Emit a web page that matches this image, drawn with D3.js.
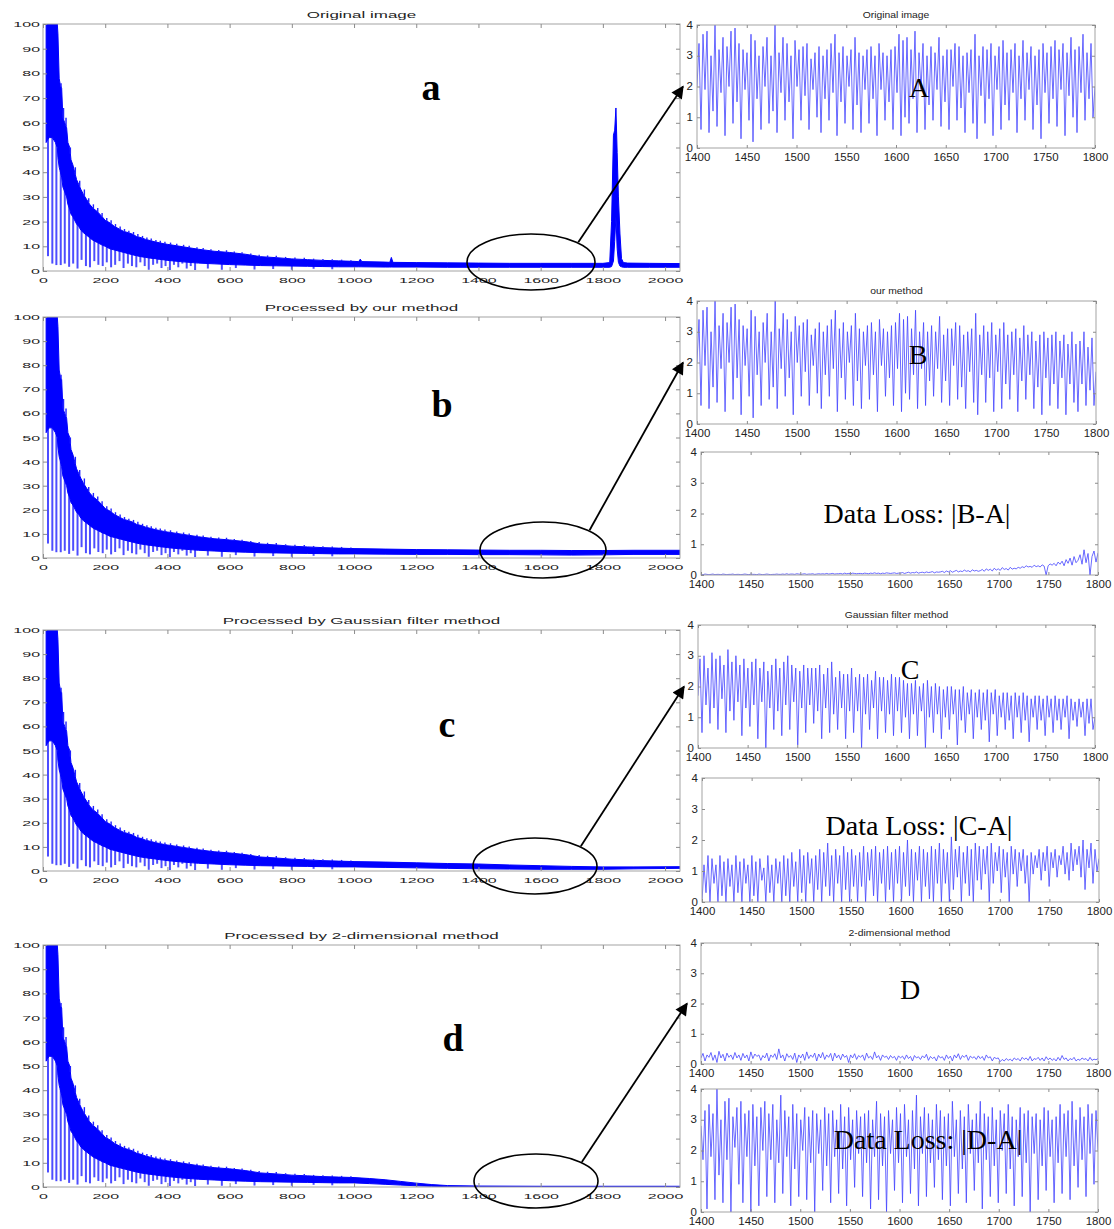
<!DOCTYPE html>
<html>
<head>
<meta charset="utf-8">
<script src="https://cdn.jsdelivr.net/npm/d3@7"></script>
<style>
  body { margin: 0; background: #fff; }
  svg { display: block; }
</style>
</head>
<body>
<div id="chart"></div>
<script>
// ---------- data ----------
// main panels: shared decaying head (0-950), as upper / lower edge of the dense band
const headX = [10, 14, 20, 30, 40, 46, 48, 52, 56, 60, 64, 70, 76, 80, 86, 90, 96, 100, 108, 115,
  122, 130, 140, 150, 160, 175, 190, 200, 215, 230, 245, 260, 275, 290, 300, 315, 330, 345, 360, 375,
  390, 400, 450, 500, 550, 600, 650, 700, 750, 800, 850, 900, 950];
const headUpper = [100, 100, 100, 100, 100, 100, 96, 78, 75, 74, 62, 60, 58, 52, 50, 45, 43, 41, 37, 35,
  33, 31, 29, 27, 25.5, 24, 22, 20.5, 19.5, 18, 17, 16, 15.5, 14.8, 14, 13.5, 12.8, 12.3, 11.8, 11.4,
  11, 10.8, 9.8, 8.8, 8, 7.5, 6.8, 5.8, 5.4, 4.9, 4.6, 4.3, 4.1];
const headLower = [52, 53, 54, 54, 52, 50, 46, 42, 40, 38, 34, 32, 30, 27, 25, 23, 22, 21, 19, 18,
  16.5, 15.5, 14.5, 13.5, 12.5, 11.5, 10.5, 10, 9, 8.5, 8, 7.5, 7, 6.5, 6.2, 5.8, 5.5, 5.2, 5, 4.7,
  4.5, 4.3, 3.7, 3.2, 2.9, 2.6, 2.4, 2.2, 2.1, 2.0, 1.9, 1.8, 1.7];
// downward spikes in the head
const spikeX = [16, 30, 43, 57, 70, 84, 97, 111, 124, 138, 151, 165, 178, 192, 205, 219, 232, 246, 259, 273,
  286, 300, 313, 327, 340, 354, 367, 381, 394, 408, 421, 435, 448, 462, 475, 489, 530, 575, 620, 680,
  740, 800, 870, 930];
const spikeMin = [6, 3, 2.4, 2.4, 3, 1.7, 3, 1, 4.5, 2, 1.5, 4, 2.5, 2, 3.5, 1.5, 2.5, 4, 1.2, 3,
  2, 1.5, 3.5, 2, 0.5, 2.5, 3, 1.2, 2, 0.4, 2.5, 1.5, 3, 1, 2, 0.4, 1, 0.5, 1.2, 0.6,
  0.8, 0.5, 0.9, 0.7];
// small upward bumps along the top edge
const bumpX = [58, 66, 74, 88, 104, 118, 133, 147, 162, 176, 190, 205, 219, 233, 248, 262, 276, 291, 305, 320,
  334, 348, 363, 377, 392, 410, 430, 452, 470, 495, 515, 540, 565, 590, 615, 640, 668, 695, 722, 750,
  780, 810, 840, 870, 900, 930, 960, 990];
const bumpMax = [76, 66, 62, 50, 42, 36.5, 33, 29.5, 27, 25.5, 23.5, 21.5, 20.5, 19, 18, 17, 16.3, 15.8, 15, 14.2,
  13.6, 13.2, 12.6, 12.2, 11.8, 11.5, 11, 10.6, 10.2, 9.6, 9.3, 8.8, 8.5, 8.4, 7.9, 7.6, 7.1, 6.6, 6.3, 6.2,
  5.7, 5.5, 5.4, 5.0, 4.9, 4.8, 4.6, 4.4];

// tails (1000-2048) of each main panel
const aTailX = [1000, 1015, 1020, 1025, 1100, 1115, 1120, 1125, 1200, 1300, 1400, 1500, 1600, 1700, 1800, 1822, 1828, 1834, 1838, 1842, 1846, 1850, 1855, 1860, 1866, 1880, 1950, 2048];
const aTailUpper = [3.9, 3.8, 4.8, 3.8, 3.6, 3.5, 5.5, 3.5, 3.4, 3.3, 3.2, 3.1, 3.1, 3.1, 3.1, 3.4, 20, 55, 57, 66, 48, 30, 15, 5, 3.4, 3.2, 3.1, 3.0];
const aTailLower = [1.7, 1.7, 1.7, 1.7, 1.6, 1.6, 1.6, 1.6, 1.6, 1.5, 1.5, 1.5, 1.5, 1.5, 1.5, 1.5, 1.8, 4, 12, 22, 9, 3.5, 2, 1.7, 1.5, 1.5, 1.5, 1.5];
const bTailX = [1000, 1100, 1200, 1300, 1400, 1500, 1600, 1700, 1800, 1900, 2048];
const bTailUpper = [3.9, 3.7, 3.5, 3.4, 3.3, 3.2, 3.2, 3.1, 3.1, 3.2, 3.2];
const bTailLower = [1.7, 1.6, 1.5, 1.5, 1.4, 1.4, 1.3, 1.2, 1.3, 1.5, 1.5];
const cTailX = [1000, 1100, 1200, 1300, 1400, 1500, 1600, 1700, 1800, 1900, 2048];
const cTailUpper = [3.9, 3.7, 3.4, 3.1, 2.9, 2.5, 2.2, 1.9, 1.7, 1.7, 1.8];
const cTailLower = [1.7, 1.5, 1.3, 1.1, 0.9, 0.8, 0.7, 0.7, 0.7, 0.9, 1.1];
const dTailX = [1000, 1050, 1100, 1150, 1200, 1250, 1300, 1400, 1600, 1800, 2048];
const dTailUpper = [3.9, 3.5, 3.0, 2.3, 1.6, 1.0, 0.6, 0.4, 0.3, 0.3, 0.3];
const dTailLower = [1.7, 1.4, 1.1, 0.8, 0.5, 0.3, 0.15, 0.05, 0.05, 0.05, 0.05];

// zoomed windows 1400-1800 (one value every ~2 samples)
const sigA = [
  2.0,3.4,0.6,3.7,1.9,3.8,0.5,3.0,1.2,4.0,0.7,3.2,1.8,3.6,0.4,3.3,2.0,3.8,0.8,3.9,
  1.5,3.4,0.3,3.2,1.9,3.1,0.9,3.7,0.2,3.5,1.6,3.0,0.6,3.3,2.0,3.6,0.8,3.0,1.2,4.0,
  0.5,3.1,1.8,3.6,0.9,3.4,1.5,3.0,0.3,3.5,2.0,3.2,0.9,3.3,1.7,3.4,0.6,2.9,1.9,3.1,
  1.0,3.3,0.5,3.0,1.6,3.2,0.9,3.4,1.8,3.7,0.4,3.1,1.5,3.3,0.8,3.0,2.0,3.2,0.6,3.6,
  1.4,3.1,0.5,3.0,1.9,3.2,0.8,3.3,1.6,3.0,0.4,3.4,1.9,3.1,0.9,3.0,1.5,3.2,0.6,3.3,
  1.8,3.7,0.4,3.5,1.0,3.6,0.8,3.2,1.6,3.8,0.5,3.1,1.9,3.4,0.6,3.0,1.4,3.3,0.9,3.1,
  1.9,3.6,0.7,3.0,1.5,3.2,0.6,3.2,2.0,3.4,0.9,3.3,1.3,3.0,0.5,3.1,1.8,3.2,0.8,3.7,
  0.3,3.0,1.7,3.3,0.8,3.2,1.6,3.4,0.4,3.0,1.9,3.3,0.6,3.5,1.4,3.1,0.9,3.2,1.8,3.4,
  0.5,3.0,1.6,3.5,0.9,3.1,1.9,3.3,0.6,3.0,1.4,3.2,0.3,3.4,1.8,3.1,0.8,3.3,1.6,3.5,
  0.7,3.2,1.9,3.4,0.4,3.1,1.7,3.6,1.0,3.2,0.5,3.3,1.8,3.7,0.9,3.1,1.6,3.4,1.0,2.0];
const sigB = [
  2.0,3.4,0.6,3.7,1.9,3.8,0.5,3.0,1.2,4.0,0.7,3.2,1.8,3.6,0.4,3.3,2.0,3.8,0.8,3.9,
  1.5,3.4,0.3,3.2,1.9,3.1,0.9,3.7,0.2,3.5,1.6,3.0,0.6,3.3,2.0,3.6,0.8,3.0,1.2,4.0,
  0.5,3.1,1.8,3.6,0.9,3.4,1.5,3.0,0.3,3.5,2.0,3.2,0.9,3.3,1.7,3.4,0.6,2.9,1.9,3.1,
  1.0,3.3,0.5,3.0,1.6,3.2,0.9,3.4,1.8,3.7,0.4,3.1,1.5,3.3,0.8,3.0,2.0,3.2,0.6,3.6,
  1.4,3.1,0.5,3.0,1.9,3.2,0.8,3.3,1.6,3.0,0.4,3.4,1.9,3.1,0.9,3.0,1.5,3.2,0.6,3.3,
  1.8,3.6,0.4,3.4,1.0,3.5,0.8,3.1,1.6,3.7,0.5,3.0,1.8,3.3,0.6,3.0,1.4,3.2,0.9,3.0,
  1.8,3.5,0.7,2.9,1.4,3.1,0.6,3.1,1.9,3.3,0.8,3.2,1.2,2.9,0.5,3.0,1.7,3.1,0.7,3.6,
  0.3,2.9,1.6,3.2,0.7,3.0,1.5,3.3,0.4,2.9,1.7,3.1,0.5,3.3,1.3,2.9,0.8,3.0,1.6,3.1,
  0.4,2.8,1.4,3.2,0.8,2.9,1.6,3.0,0.5,2.7,1.2,2.9,0.3,3.0,1.5,2.8,0.6,2.9,1.3,3.0,
  0.5,2.7,1.5,2.9,0.3,2.6,1.3,3.0,0.7,2.6,0.4,2.7,1.3,3.0,0.6,2.5,1.1,2.8,0.6,1.7];
const lossBA = [
  0.02,0.01,0.03,0.02,0.01,0.02,0.03,0.01,0.02,0.02,0.01,0.03,0.02,0.01,0.02,0.02,0.03,0.01,0.02,0.02,
  0.01,0.02,0.03,0.02,0.01,0.03,0.02,0.02,0.01,0.03,0.02,0.01,0.02,0.03,0.02,0.01,0.02,0.02,0.03,0.02,
  0.02,0.03,0.02,0.04,0.02,0.03,0.03,0.02,0.04,0.03,0.02,0.03,0.04,0.02,0.03,0.03,0.04,0.02,0.03,0.04,
  0.03,0.04,0.03,0.05,0.03,0.04,0.05,0.03,0.04,0.04,0.05,0.03,0.06,0.04,0.05,0.04,0.06,0.05,0.04,0.05,
  0.05,0.04,0.06,0.05,0.04,0.06,0.05,0.07,0.05,0.06,0.04,0.06,0.05,0.07,0.06,0.05,0.06,0.07,0.05,0.06,
  0.06,0.08,0.05,0.07,0.09,0.06,0.08,0.07,0.10,0.06,0.08,0.09,0.07,0.10,0.08,0.09,0.11,0.07,0.10,0.09,
  0.10,0.12,0.08,0.13,0.10,0.14,0.09,0.12,0.15,0.10,0.13,0.11,0.16,0.12,0.14,0.10,0.17,0.13,0.15,0.12,
  0.14,0.18,0.12,0.20,0.15,0.19,0.13,0.22,0.16,0.20,0.15,0.24,0.18,0.21,0.16,0.25,0.19,0.22,0.20,0.25,
  0.22,0.27,0.24,0.30,0.26,0.28,0.25,0.32,0.27,0.30,0.26,0.33,0.29,0.00,0.30,0.36,0.32,0.38,0.30,0.42,
  0.35,0.45,0.30,0.50,0.38,0.55,0.32,0.60,0.40,0.48,0.66,0.35,0.82,0.40,0.70,0.00,0.60,0.78,0.42,0.72];
const sigC = [
  1.7,2.9,0.5,3.0,1.4,2.6,0.8,3.1,1.3,2.9,0.6,3.0,1.6,2.7,0.5,3.2,1.2,2.8,0.9,3.0,
  1.5,2.7,0.4,2.9,1.3,2.6,0.7,2.8,1.4,2.9,0.3,2.6,1.5,2.8,0.0,2.5,1.3,2.7,0.6,2.9,
  1.2,2.6,0.4,2.8,1.4,3.0,0.6,2.7,1.5,2.6,0.1,2.5,1.3,2.7,0.5,2.6,1.4,2.6,0.8,2.6,
  1.2,2.7,0.3,2.4,1.3,2.6,0.5,2.8,1.1,2.3,0.6,2.5,1.3,2.4,0.3,2.4,1.2,2.6,0.5,2.3,
  1.2,2.4,0.0,2.3,1.1,2.4,0.6,2.2,1.3,2.5,0.3,2.3,1.2,2.3,0.5,2.2,1.1,2.4,0.4,2.3,
  1.2,2.3,0.5,2.2,1.0,2.1,0.3,2.1,1.1,2.2,0.4,2.0,1.2,2.1,0.0,2.2,1.0,2.0,0.5,2.1,
  1.1,2.0,0.3,1.9,1.0,2.0,0.6,2.0,1.1,1.9,0.1,1.9,0.9,2.0,0.5,1.8,1.1,1.9,0.3,1.8,
  1.0,1.9,0.6,1.8,0.9,1.9,0.2,1.8,1.1,1.9,0.4,1.7,1.0,1.8,0.6,1.8,0.9,1.7,0.3,1.8,
  1.0,1.7,0.5,1.8,0.9,1.7,0.2,1.6,1.0,1.7,0.6,1.7,0.9,1.6,0.4,1.7,1.0,1.6,0.5,1.7,
  0.9,1.6,0.6,1.6,1.0,1.7,0.3,1.6,0.9,1.5,0.7,1.6,1.0,1.5,0.4,1.6,0.8,1.6,0.6,1.0];
const lossCA = [
  0.0,1.2,0.3,1.5,0.0,1.4,0.6,1.2,0.0,1.5,0.2,1.3,0.0,1.4,0.5,1.2,0.0,1.5,0.3,1.3,
  0.0,1.4,0.6,1.2,0.0,1.5,0.2,1.3,0.0,1.4,0.7,1.1,0.0,1.5,0.3,1.2,0.0,1.4,0.6,1.3,
  0.0,1.5,0.2,1.4,0.0,1.6,0.5,1.3,0.0,1.7,0.3,1.5,0.0,1.6,0.6,1.4,0.0,1.5,0.4,1.7,
  0.0,1.6,0.5,1.9,0.2,1.5,0.0,1.7,0.6,1.5,0.0,1.8,0.4,1.6,0.0,1.7,0.5,1.5,0.0,1.6,
  0.5,1.8,0.0,1.6,0.7,1.7,0.2,1.8,0.0,1.6,0.6,1.7,0.0,1.8,0.4,1.6,0.0,1.7,0.6,1.8,
  0.0,1.6,0.5,2.0,0.2,1.7,0.0,1.6,0.7,1.8,0.0,1.7,0.5,1.6,0.1,1.8,0.0,1.7,0.6,1.9,
  0.0,1.7,0.6,1.6,0.0,2.1,0.4,1.7,0.8,1.8,0.0,1.6,0.6,1.8,0.2,1.7,0.0,1.9,0.7,1.8,
  0.4,1.7,0.9,1.8,0.0,1.9,0.6,1.6,1.0,1.8,0.3,1.7,0.8,1.6,0.0,1.8,0.9,1.7,0.5,1.6,
  1.0,1.7,0.6,1.5,0.0,1.6,0.9,1.5,1.1,1.7,0.7,1.6,1.0,1.8,0.5,1.6,1.1,1.7,0.8,1.5,
  1.2,1.8,0.9,1.6,0.7,1.9,1.0,1.7,1.2,1.8,0.8,2.0,0.4,1.7,1.1,1.9,0.6,1.7,1.0,1.4];
const sigD = [
  0.20,0.35,0.10,0.30,0.22,0.38,0.12,0.30,0.05,0.42,0.20,0.32,0.10,0.36,0.22,0.30,0.15,0.38,0.20,0.30,
  0.12,0.35,0.20,0.30,0.10,0.40,0.18,0.33,0.25,0.30,0.12,0.28,0.20,0.36,0.10,0.30,0.22,0.34,0.15,0.50,
  0.20,0.30,0.10,0.34,0.22,0.28,0.15,0.36,0.05,0.30,0.20,0.33,0.12,0.40,0.18,0.30,0.22,0.36,0.10,0.33,
  0.20,0.38,0.15,0.30,0.22,0.35,0.10,0.36,0.20,0.30,0.14,0.33,0.22,0.28,0.05,0.30,0.20,0.34,0.15,0.28,
  0.22,0.30,0.12,0.36,0.20,0.26,0.15,0.40,0.20,0.28,0.12,0.30,0.22,0.26,0.15,0.28,0.20,0.25,0.12,0.27,
  0.20,0.26,0.15,0.30,0.18,0.25,0.10,0.28,0.20,0.24,0.15,0.27,0.20,0.32,0.12,0.25,0.18,0.23,0.10,0.28,
  0.20,0.24,0.12,0.30,0.18,0.26,0.10,0.30,0.20,0.34,0.15,0.28,0.22,0.30,0.12,0.26,0.20,0.24,0.15,0.27,
  0.18,0.25,0.12,0.30,0.20,0.24,0.10,0.22,0.18,0.20,0.08,0.15,0.10,0.18,0.12,0.16,0.10,0.20,0.14,0.18,
  0.10,0.22,0.15,0.20,0.12,0.25,0.10,0.18,0.15,0.22,0.12,0.20,0.10,0.24,0.14,0.20,0.12,0.18,0.10,0.22,
  0.12,0.28,0.15,0.20,0.10,0.18,0.14,0.22,0.10,0.16,0.12,0.20,0.15,0.18,0.10,0.22,0.12,0.16,0.14,0.18];
const lossDA = [
  2.8,1.7,3.3,0.1,3.5,1.8,3.2,0.4,4.0,1.2,3.0,0.3,3.6,1.7,3.7,0.0,3.1,2.1,3.4,0.9,
  3.6,0.3,3.2,1.8,3.3,0.0,3.5,1.5,3.1,0.2,3.4,2.0,3.6,0.5,3.2,1.7,3.5,0.3,3.0,1.6,
  3.8,0.6,3.3,1.8,3.1,0.2,3.5,1.4,3.2,0.5,3.0,2.0,3.4,0.4,3.1,1.6,3.3,0.0,3.2,1.9,
  3.0,0.7,3.4,1.5,3.2,0.3,3.3,1.8,3.0,0.6,3.5,1.4,3.1,0.2,3.4,1.7,3.0,0.8,3.3,1.9,
  3.1,0.5,3.2,1.6,3.3,0.1,3.0,1.8,3.6,0.4,3.2,1.5,3.1,0.0,3.3,1.9,3.0,0.7,3.4,1.6,
  3.2,0.3,3.5,1.8,3.0,0.6,3.3,1.4,3.8,0.2,3.1,1.9,3.4,0.5,3.2,1.6,3.0,0.8,3.5,1.7,
  3.3,0.4,3.1,1.5,3.2,0.2,3.6,1.8,3.0,0.6,3.3,1.4,3.1,0.3,3.5,1.9,3.0,0.7,3.2,1.6,
  3.6,0.1,3.2,1.7,3.1,0.5,3.4,1.5,3.0,0.3,3.3,2.0,3.2,0.6,3.5,1.4,3.1,0.2,3.0,1.8,
  3.4,0.5,3.2,1.6,3.3,0.0,3.1,1.9,3.2,0.4,3.0,1.5,3.4,0.7,3.3,1.8,3.0,0.3,3.1,1.6,
  3.5,0.6,3.2,1.8,3.3,0.4,3.6,1.5,3.0,0.8,3.4,1.7,3.1,0.5,3.5,1.9,3.2,0.9,3.3,2.0];

const mainXTicks = [0, 200, 400, 600, 800, 1000, 1200, 1400, 1600, 1800, 2000];
const mainYTicks = [0, 10, 20, 30, 40, 50, 60, 70, 80, 90, 100];
const zoomXTicks = [1400, 1450, 1500, 1550, 1600, 1650, 1700, 1750, 1800];
const zoomYTicks = [0, 1, 2, 3, 4];

// ---------- layout ----------
const W = 1114, H = 1229;
const SANS = "'Liberation Sans', Arial, sans-serif";
const SERIF = "'Liberation Serif', 'Times New Roman', serif";
const fmt = d3.format("d");

const svg = d3.select("#chart").append("svg")
  .attr("width", W).attr("height", H);

svg.append("defs").append("marker")
  .attr("id", "head")
  .attr("viewBox", "0 0 10 10")
  .attr("refX", 9).attr("refY", 5)
  .attr("markerWidth", 8).attr("markerHeight", 7)
  .attr("markerUnits", "strokeWidth")
  .attr("orient", "auto")
  .append("path").attr("d", "M0,0 L10,5 L0,10 z").attr("fill", "#000");

// text that is wider than the font (the figure was stretched sideways)
function wideText(g, x, y, str, size, sx, anchor) {
  return g.append("text")
    .attr("x", x / sx).attr("y", y)
    .attr("transform", `scale(${sx},1)`)
    .attr("text-anchor", anchor || "middle")
    .attr("font-family", SANS)
    .attr("font-size", size)
    .attr("fill", "#222")
    .text(str);
}

function frame(g, x, y, xTicks, yTicks, opt) {
  const [l, r] = x.range();
  const [b, t] = y.range();
  const tk = opt.tick;

  g.append("rect")
    .attr("x", l).attr("y", t)
    .attr("width", r - l).attr("height", b - t)
    .attr("fill", "none").attr("stroke", "#a3a3a3");

  const axes = [
    g.append("g").attr("transform", `translate(0,${b})`)
      .call(d3.axisBottom(x).tickValues(xTicks).tickFormat(fmt).tickSize(-tk).tickSizeOuter(0).tickPadding(opt.padB)),
    g.append("g").attr("transform", `translate(0,${t})`)
      .call(d3.axisTop(x).tickValues(xTicks).tickSize(-tk).tickSizeOuter(0).tickFormat("")),
    g.append("g").attr("transform", `translate(${l},0)`)
      .call(d3.axisLeft(y).tickValues(yTicks).tickFormat(fmt).tickSize(-tk).tickSizeOuter(0)),
    g.append("g").attr("transform", `translate(${r},0)`)
      .call(d3.axisRight(y).tickValues(yTicks).tickSize(-tk).tickSizeOuter(0).tickFormat(""))
  ];
  axes.forEach(a => {
    a.select(".domain").remove();
    a.attr("font-family", SANS).attr("font-size", opt.fs).attr("color", "#222");
    a.selectAll("line").attr("stroke", "#8c8c8c");
  });
  axes[0].selectAll("text").attr("transform", `scale(${opt.sx},1)`);
  axes[2].selectAll("text")
    .attr("x", -opt.padL / opt.sx)
    .attr("transform", `scale(${opt.sx},1)`);
}

// ---------- big panels ----------
const mainPanels = [
  { title: "Original image", top: 24, bottom: 271, tx: aTailX, tu: aTailUpper, tl: aTailLower,
    letter: "a", lx: 431, ly: 100, ecx: 531, ecy: 262, erx: 64, ery: 28, target: 0 },
  { title: "Processed by our method", top: 317, bottom: 558, tx: bTailX, tu: bTailUpper, tl: bTailLower,
    letter: "b", lx: 442, ly: 417, ecx: 543, ecy: 550, erx: 63, ery: 28, target: 1 },
  { title: "Processed by Gaussian filter method", top: 630, bottom: 871, tx: cTailX, tu: cTailUpper, tl: cTailLower,
    letter: "c", lx: 447, ly: 737, ecx: 535, ecy: 866, erx: 62, ery: 28, target: 3 },
  { title: "Processed by 2-dimensional method", top: 945, bottom: 1187, tx: dTailX, tu: dTailUpper, tl: dTailLower,
    letter: "d", lx: 453, ly: 1051, ecx: 536, ecy: 1181, erx: 62, ery: 27, target: 5 }
];

// ---------- zoomed panels ----------
const zoomPanels = [
  { title: "Original image", l: 697, r: 1095, t: 25, b: 148, values: sigA, label: "A", lx: 919, ly: 97 },
  { title: "our method", l: 697, r: 1096, t: 301, b: 424, values: sigB, label: "B", lx: 918, ly: 364 },
  { title: null, l: 701, r: 1098, t: 452, b: 575, values: lossBA, label: "Data Loss: |B-A|", lx: 917, ly: 523 },
  { title: "Gaussian filter method", l: 698, r: 1095, t: 625, b: 748, values: sigC, label: "C", lx: 910, ly: 679 },
  { title: null, l: 702, r: 1099, t: 778, b: 902, values: lossCA, label: "Data Loss: |C-A|", lx: 919, ly: 835 },
  { title: "2-dimensional method", l: 701, r: 1098, t: 943, b: 1064, values: sigD, label: "D", lx: 910, ly: 999 },
  { title: null, l: 701, r: 1098, t: 1089, b: 1212, values: lossDA, label: "Data Loss: |D-A|", lx: 928, ly: 1149 }
];

zoomPanels.forEach((p, k) => {
  const g = svg.append("g");
  p.x = d3.scaleLinear().domain([1400, 1800]).range([p.l, p.r]);
  p.y = d3.scaleLinear().domain([0, 4]).range([p.b, p.t]);

  g.append("clipPath").attr("id", "zc" + k)
    .append("rect").attr("x", p.l).attr("y", p.t).attr("width", p.r - p.l).attr("height", p.b - p.t);

  const n = p.values.length;
  const line = d3.line()
    .x((d, i) => p.x(1400 + i * 400 / (n - 1)))
    .y(d => p.y(d));

  g.append("path")
    .datum(p.values)
    .attr("clip-path", `url(#zc${k})`)
    .attr("d", line)
    .attr("fill", "none")
    .attr("stroke", "#4444ff")
    .attr("stroke-width", 0.8);

  frame(g, p.x, p.y, zoomXTicks, zoomYTicks, { tick: 3, fs: 10, sx: 1.15, padB: 6, padL: 4 });

  if (p.title) wideText(g, (p.l + p.r) / 2, p.t - 6.5, p.title, 9, 1.15);

  g.append("text")
    .attr("x", p.lx).attr("y", p.ly)
    .attr("text-anchor", "middle")
    .attr("font-family", SERIF)
    .attr("font-size", 28)
    .attr("fill", "#000")
    .text(p.label);
});

mainPanels.forEach((p, k) => {
  const g = svg.append("g");
  const x = d3.scaleLinear().domain([0, 2048]).range([43, 680]);
  const y = d3.scaleLinear().domain([0, 100]).range([p.bottom, p.top]);

  const rows = headX.map((v, i) => ({ x: v, up: headUpper[i], lo: headLower[i] }))
    .concat(p.tx.map((v, i) => ({ x: v, up: p.tu[i], lo: p.tl[i] })));

  g.append("clipPath").attr("id", "mc" + k)
    .append("rect").attr("x", 43).attr("y", p.top).attr("width", 637).attr("height", p.bottom - p.top);

  const body = g.append("g").attr("clip-path", `url(#mc${k})`);

  const area = d3.area()
    .x(d => x(d.x))
    .y0(d => y(d.lo))
    .y1(d => y(d.up));

  // lower / upper edge as lookups so the spikes start on the band
  const lowAt = d3.scaleLinear().domain(rows.map(d => d.x)).range(rows.map(d => d.lo));
  const upAt = d3.scaleLinear().domain(rows.map(d => d.x)).range(rows.map(d => d.up));

  body.selectAll(".spike")
    .data(spikeX)
    .join("line")
    .attr("class", "spike")
    .attr("x1", d => x(d)).attr("x2", d => x(d))
    .attr("y1", d => y(lowAt(d) + 1))
    .attr("y2", (d, i) => y(spikeMin[i]))
    .attr("stroke", "#4d4dff")
    .attr("stroke-width", 2);

  body.append("path")
    .datum(rows)
    .attr("d", area)
    .attr("fill", "#0000ff")
    .attr("stroke", "#0000ff")
    .attr("stroke-width", 1);

  body.selectAll(".bump")
    .data(bumpX)
    .join("line")
    .attr("class", "bump")
    .attr("x1", d => x(d)).attr("x2", d => x(d))
    .attr("y1", d => y(upAt(d)))
    .attr("y2", (d, i) => y(bumpMax[i]))
    .attr("stroke", "#2020ff")
    .attr("stroke-width", 1.4);

  frame(g, x, y, mainXTicks, mainYTicks, { tick: 4, fs: 8, sx: 2.0, padB: 6, padL: 3 });

  wideText(g, 361.5, p.top - 6, p.title, 8.5, 2.0);

  g.append("text")
    .attr("x", p.lx).attr("y", p.ly)
    .attr("text-anchor", "middle")
    .attr("font-family", SERIF)
    .attr("font-weight", "bold")
    .attr("font-size", 38)
    .attr("fill", "#000")
    .text(p.letter);

  // ellipse round 1400-1800 and the arrow to the zoomed window
  g.append("ellipse")
    .attr("cx", p.ecx).attr("cy", p.ecy)
    .attr("rx", p.erx).attr("ry", p.ery)
    .attr("fill", "none").attr("stroke", "#000").attr("stroke-width", 1.6);

  const tp = zoomPanels[p.target];
  const a0 = Math.PI / 4;
  g.append("line")
    .attr("x1", p.ecx + p.erx * Math.cos(a0) + 2)
    .attr("y1", p.ecy - p.ery * Math.sin(a0))
    .attr("x2", tp.l - 14)
    .attr("y2", tp.y(2))
    .attr("stroke", "#000")
    .attr("stroke-width", 1.8)
    .attr("marker-end", "url(#head)");
});
</script>
</body>
</html>
